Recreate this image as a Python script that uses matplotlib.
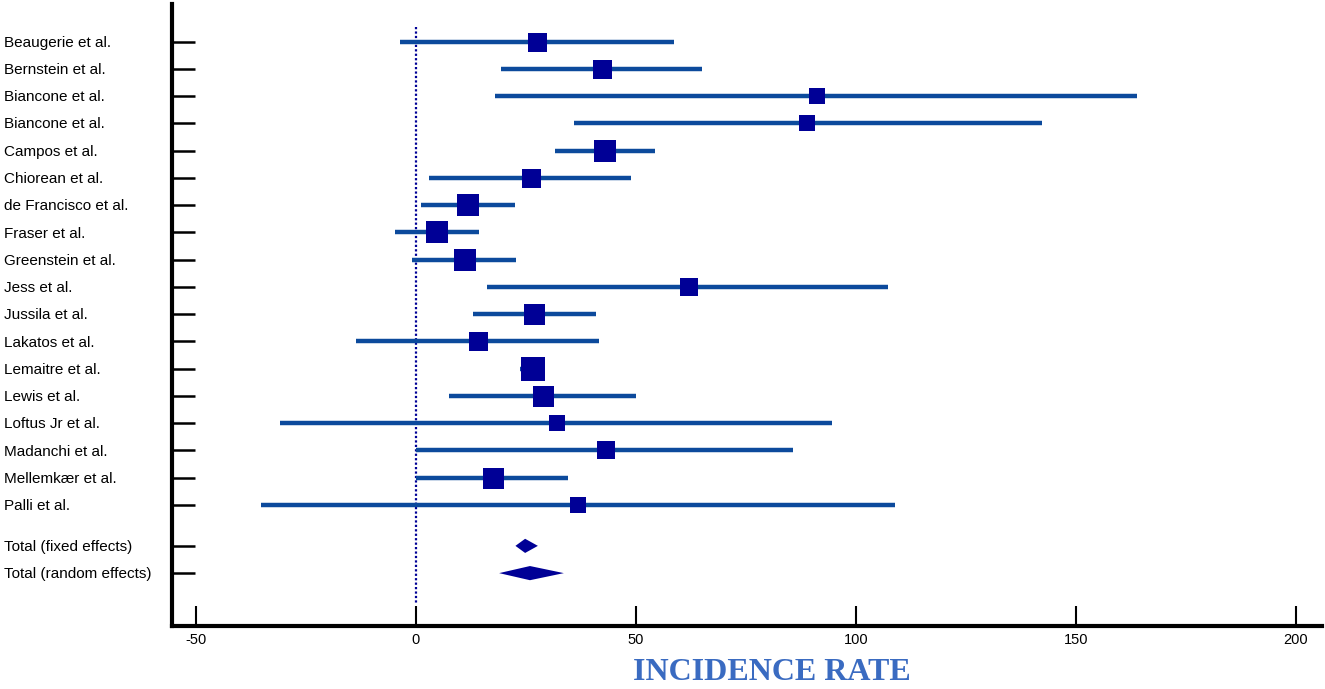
"""Forest plot of incidence rates (per study + pooled estimates)."""

import matplotlib
matplotlib.use("Agg")
import matplotlib.pyplot as plt
from matplotlib.transforms import blended_transform_factory

plt.rcParams["font.family"] = ["Liberation Sans", "DejaVu Sans"]

# Study data
studies = [
    "Beaugerie et al.", "Bernstein et al.", "Biancone et al.", "Biancone et al.",
    "Campos et al.", "Chiorean et al.", "de Francisco et al.", "Fraser et al.",
    "Greenstein et al.", "Jess et al.", "Jussila et al.", "Lakatos et al.",
    "Lemaitre et al.", "Lewis et al.", "Loftus Jr et al.", "Madanchi et al.",
    "Mellemkær et al.", "Palli et al.",
]
estimate = [27.6, 42.3, 91.1, 88.9, 43.0, 26.2, 11.9, 4.8, 11.1, 62.0,
            26.9, 14.2, 26.5, 28.9, 32.0, 43.1, 17.5, 36.8]
ci_low = [-3.6, 19.3, 18.0, 35.9, 31.5, 3.0, 1.1, -4.7, -0.8, 16.1,
          13.0, -13.6, 23.6, 7.5, -30.8, 0.0, 0.0, -35.3]
ci_high = [58.6, 65.0, 163.9, 142.3, 54.4, 48.9, 22.6, 14.4, 22.8, 107.3,
           41.0, 41.5, 29.0, 50.1, 94.6, 85.7, 34.6, 108.8]
# relative study weight, shown as box size
weight = [19, 19, 16, 16, 23, 19, 23, 23, 23, 18, 21, 19, 24, 21, 16, 18, 21, 16]

pooled_labels = ["Total (fixed effects)", "Total (random effects)"]
pooled_est = [24.8, 25.9]
pooled_low = [22.6, 18.9]
pooled_high = [27.7, 33.6]

xticks = [-50, 0, 50, 100, 150, 200]

CI_COLOR = "#0c4a9c"
BOX_COLOR = "#000096"

W, H = 1325, 689
fig = plt.figure(figsize=(W / 100, H / 100), dpi=100)
ax = fig.add_axes([172 / W, 63 / H, (1322 - 172) / W, (685 - 63) / H])

study_y = list(range(len(studies)))
pooled_y = [len(studies) + 0.5, len(studies) + 1.5]

# zero reference line
ax.plot([0, 0], [-0.54, 20.6], color=BOX_COLOR, lw=1.6,
        linestyle=(0, (1, 1)), zorder=1)

for y, lo, hi, est, w in zip(study_y, ci_low, ci_high, estimate, weight):
    ax.plot([lo, hi], [y, y], color=CI_COLOR, lw=3.2,
            solid_capstyle="butt", zorder=2)
    ax.plot(est, y, marker="s", ms=w * 0.72, color=BOX_COLOR,
            mec=BOX_COLOR, mew=0, zorder=3)

half_h = 0.26
for y, lo, hi, est in zip(pooled_y, pooled_low, pooled_high, pooled_est):
    ax.fill([lo, est, hi, est], [y, y - half_h, y, y + half_h],
            color=BOX_COLOR, lw=0, zorder=3)

ax.set_xlim(-55.45, 205.9)
ax.set_ylim(21.44, -1.38)

ax.spines["top"].set_visible(False)
ax.spines["right"].set_visible(False)
ax.spines["left"].set_linewidth(3.0)
ax.spines["bottom"].set_linewidth(3.0)

ax.set_xticks(xticks)
ax.set_xticklabels([str(t) for t in xticks], fontsize=10.5)
ax.tick_params(axis="x", direction="in", length=14.5, width=1.5, pad=5)

all_y = study_y + pooled_y
ax.set_yticks(all_y)
ax.set_yticklabels([])
ax.tick_params(axis="y", direction="in", length=16.5, width=1.8)

# left-aligned study labels at the figure edge
trans = blended_transform_factory(fig.transFigure, ax.transData)
for y, name in zip(all_y, studies + pooled_labels):
    ax.text(4 / W, y + 0.04, name, transform=trans, ha="left", va="center",
            fontsize=11, color="black")

fig.text((635 + 908) / 2 / W, 1 - 672 / H, "INCIDENCE RATE",
         ha="center", va="center", fontsize=23, fontweight="bold",
         color="#3a6bc1",
         family=["DejaVu Serif Condensed", "Liberation Serif", "DejaVu Serif"])

fig.savefig("out.png", dpi=100)
